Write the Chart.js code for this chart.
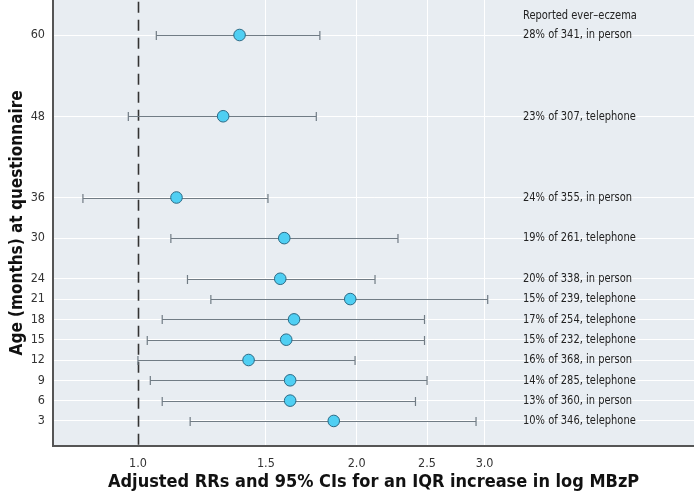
<!DOCTYPE html>
<html>
<head>
<meta charset="utf-8">
<script src="https://cdn.jsdelivr.net/npm/chart.js@4/dist/chart.umd.min.js"></script>
<style>
  html, body { margin: 0; padding: 0; background: #fff; overflow: hidden; }
  /* the canvas is 7px larger; Chart.js keeps a 7px gap top and right */
  #wrap { position: absolute; left: 0; top: -7px; width: 701px; height: 500px; }
</style>
</head>
<body>
<div id="wrap"><canvas id="forest"></canvas></div>
<script>
// age at questionnaire (months)
const ages = [60, 48, 36, 30, 24, 21, 18, 15, 12, 9, 6, 3];
// adjusted RR and 95% CI
const rr    = [1.38, 1.31, 1.13, 1.59, 1.57, 1.96, 1.64, 1.60, 1.42, 1.62, 1.62, 1.86];
const ciLow = [1.06, 0.97, 0.84, 1.11, 1.17, 1.26, 1.08, 1.03, 1.00, 1.04, 1.08, 1.18];
const ciHigh= [1.78, 1.76, 1.51, 2.28, 2.12, 3.03, 2.48, 2.48, 1.99, 2.50, 2.41, 2.92];
const notes = [
  '28% of 341, in person', '23% of 307, telephone', '24% of 355, in person',
  '19% of 261, telephone', '20% of 338, in person', '15% of 239, telephone',
  '17% of 254, telephone', '15% of 232, telephone', '16% of 368, in person',
  '14% of 285, telephone', '13% of 360, in person', '10% of 346, telephone'
];
const notesHeader = 'Reported ever\u2013eczema';
const xTicks = [1.0, 1.5, 2.0, 2.5, 3.0];
const yTicks = [3, 6, 9, 12, 15, 18, 21, 24, 30, 36, 48, 60];

const FONT = '"Liberation Sans Narrow", "DejaVu Sans Condensed", "Roboto", sans-serif';

const noPad = s => { s.paddingTop = 0; s.paddingBottom = 0; s.paddingLeft = 0; s.paddingRight = 0; };

const forestPlugin = {
    id: 'forest',
    beforeDatasetsDraw(chart) {
        const { ctx, chartArea, scales } = chart;
        const x = scales.x, y = scales.y;
        ctx.save();
        // reference line at RR = 1
        const x1 = Math.round(x.getPixelForValue(1)) + 0.5;
        ctx.strokeStyle = '#333';
        ctx.lineWidth = 1.6;
        ctx.setLineDash([11, 7]);
        ctx.beginPath();
        ctx.moveTo(x1, chartArea.top + 2);
        ctx.lineTo(x1, chartArea.bottom);
        ctx.stroke();
        ctx.setLineDash([]);
        // confidence intervals
        ctx.strokeStyle = '#717c85';
        ctx.lineWidth = 1.2;
        ages.forEach((a, i) => {
            const py = Math.round(y.getPixelForValue(a)) + 0.5;
            const lo = x.getPixelForValue(ciLow[i]);
            const hi = x.getPixelForValue(ciHigh[i]);
            ctx.beginPath();
            ctx.moveTo(lo, py); ctx.lineTo(hi, py);
            ctx.moveTo(lo, py - 4.5); ctx.lineTo(lo, py + 4.5);
            ctx.moveTo(hi, py - 4.5); ctx.lineTo(hi, py + 4.5);
            ctx.stroke();
        });
        ctx.restore();
    },
    afterDatasetsDraw(chart) {
        const { ctx, scales } = chart;
        const y = scales.y;
        const tx = 523;
        ctx.save();
        ctx.font = '12.5px ' + FONT;
        ctx.fillStyle = '#222';
        ctx.textBaseline = 'middle';
        const put = (t, py) => {
            ctx.save();
            ctx.translate(tx, py);
            ctx.scale(0.88, 1);
            ctx.fillText(t, 0, 0);
            ctx.restore();
        };
        put(notesHeader, y.getPixelForValue(62.8));
        notes.forEach((t, i) => put(t, y.getPixelForValue(ages[i])));
        ctx.restore();
    }
};

const bgPlugin = {
    id: 'plotBg',
    beforeDraw(chart) {
        const { ctx, chartArea } = chart;
        ctx.save();
        ctx.fillStyle = '#e8edf2';
        ctx.fillRect(chartArea.left, chartArea.top, chartArea.right - chartArea.left, chartArea.bottom - chartArea.top);
        ctx.restore();
    }
};

new Chart(document.getElementById('forest'), {
    type: 'scatter',
    data: {
        datasets: [{
            data: ages.map((a, i) => ({ x: rr[i], y: a })),
            backgroundColor: '#4fcff3',
            borderColor: '#2a6a86',
            borderWidth: 1,
            pointRadius: 5.8
        }]
    },
    options: {
        responsive: true,
        maintainAspectRatio: false,
        animation: false,
        layout: { padding: 0 },
        plugins: { legend: { display: false }, tooltip: { enabled: false } },
        scales: {
            x: {
                type: 'logarithmic',
                min: 0.764,
                max: 5.83,
                afterBuildTicks: s => { s.ticks = xTicks.map(v => ({ value: v })); },
                afterFit: s => { s.height = 47; noPad(s); },
                ticks: {
                    callback: v => Number(v).toFixed(1),
                    color: '#333',
                    font: { family: FONT, size: 12.5 },
                    padding: 10
                },
                grid: {
                    color: c => (c.tick && c.tick.value === 1 ? 'rgba(0,0,0,0)' : '#ffffff'),
                    lineWidth: 1,
                    drawTicks: false
                },
                border: { color: '#555', width: 2 },
                title: {
                    display: true,
                    text: 'Adjusted RRs and 95% CIs for an IQR increase in log MBzP',
                    color: '#111',
                    font: { family: FONT, size: 18, weight: 'bold' },
                    padding: { top: 1, bottom: 0 }
                }
            },
            y: {
                type: 'linear',
                min: -0.7,
                max: 65.2,
                afterBuildTicks: s => { s.ticks = yTicks.map(v => ({ value: v })); },
                afterFit: s => { s.width = 53; noPad(s); },
                ticks: {
                    color: '#333',
                    font: { family: FONT, size: 12.5 },
                    padding: 8
                },
                grid: { color: '#ffffff', lineWidth: 1, drawTicks: false },
                border: { color: '#555', width: 2 },
                title: {
                    display: true,
                    text: 'Age (months) at questionnaire',
                    color: '#111',
                    font: { family: FONT, size: 17, weight: 'bold' },
                    padding: { top: 7, bottom: 0 }
                }
            }
        }
    },
    plugins: [bgPlugin, forestPlugin]
});
</script>
</body>
</html>
